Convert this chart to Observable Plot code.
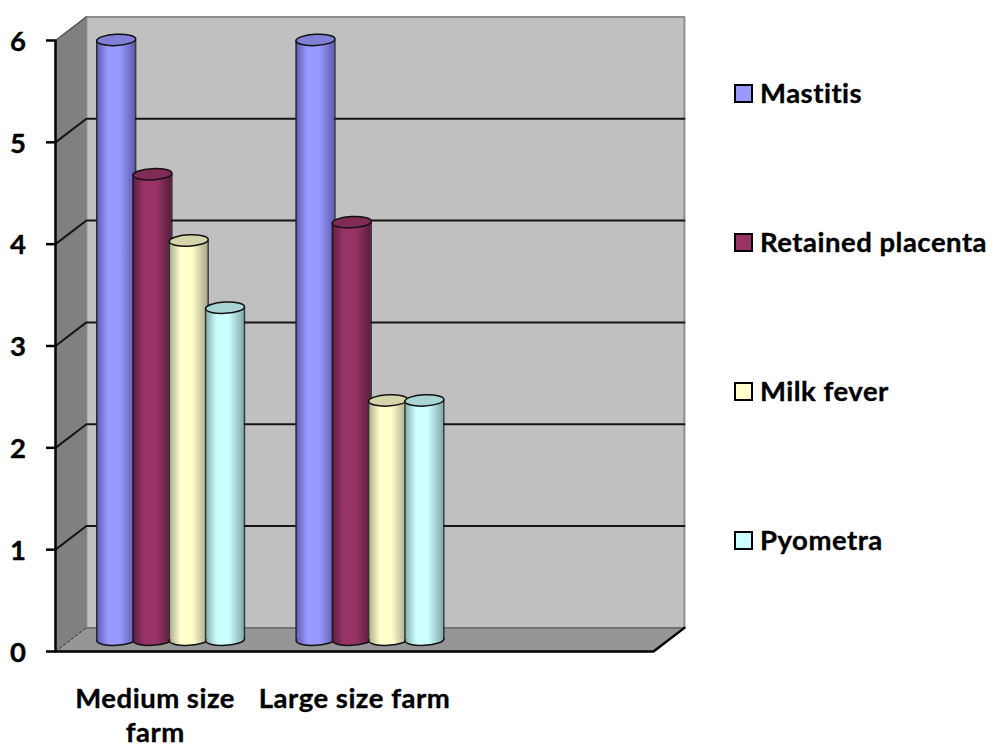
<!DOCTYPE html>
<html>
<head>
<meta charset="utf-8">
<script src="https://cdn.jsdelivr.net/npm/d3@7"></script>
<script src="https://cdn.jsdelivr.net/npm/@observablehq/plot@0.6"></script>
<style>
  html, body { margin: 0; padding: 0; background: #fff; }
  #page { position: relative; width: 993px; height: 747px; overflow: hidden; font-family: Lato, sans-serif; font-variant-ligatures: none; }
  #chart text { letter-spacing: 0.5px; font-variant-ligatures: none; }
  #legend { position: absolute; left: 734px; top: 71px; display: flex; flex-direction: column; gap: 105px; }
  .entry { display: flex; align-items: center; height: 44px; font-size: 27.5px; letter-spacing: 0.5px; font-weight: 700; color: #000; white-space: nowrap; -webkit-text-stroke: 0.35px #000; }
  .entry .name { position: relative; top: -1px; }
  .swatch { box-sizing: border-box; width: 19px; height: 19px; border: 2.5px solid #000; margin-right: 7px; }
</style>
</head>
<body>
<div id="page"><div id="chart"></div><div id="legend"></div></div>
<script>
// Disease counts per farm size
const categories = ["Medium size\nfarm", "Large size farm"];
const seriesNames = ["Mastitis", "Retained placenta", "Milk fever", "Pyometra"];
const mediumValues = [5.89, 4.57, 3.92, 3.26];
const largeValues = [5.89, 4.10, 2.35, 2.35];
const yTicks = [0, 1, 2, 3, 4, 5, 6];

// Palette: face colour, shaded edge of the cylinder, darker cap
const faceColors = ["#9999ff", "#993366", "#ffffcc", "#ccffff"];
const edgeColors = ["#5c5cb0", "#5a1e3d", "#a8a888", "#86a8a8"];
const capColors = ["#8080d6", "#802b55", "#d5d5aa", "#aad5d5"];

// Oblique depth of the chart box, in x and y scale units
const depthX = 0.155;
const depthY = 0.232;
const cylinderWidth = 0.195;
const cylinderStep = 0.182;
const xMax = 3;
const yMax = 6;

const project = (x, y, depth) => ({x: x + depth * depthX, y: y + depth * depthY});
const polygon = (points, options) => Plot.line(points, {x: "x", y: "y", ...options});

// Flat ellipse used for the cylinder ends
const flatEllipse = {
  draw(context, size) {
    const rx = Math.sqrt(size / Math.PI);
    const ry = rx * 0.29;
    const k = 0.5523;
    context.moveTo(-rx, 0);
    context.bezierCurveTo(-rx, -k * ry, -k * rx, -ry, 0, -ry);
    context.bezierCurveTo(k * rx, -ry, rx, -k * ry, rx, 0);
    context.bezierCurveTo(rx, k * ry, k * rx, ry, 0, ry);
    context.bezierCurveTo(-k * rx, ry, -rx, k * ry, -rx, 0);
    context.closePath();
  }
};

// Box: back wall, left wall and floor
const backWall = [project(0, 0, 1), project(xMax, 0, 1), project(xMax, yMax, 1), project(0, yMax, 1), project(0, 0, 1)];
const sideWall = [project(0, 0, 0), project(0, 0, 1), project(0, yMax, 1), project(0, yMax, 0), project(0, 0, 0)];
const floor = [project(0, 0, 0), project(xMax, 0, 0), project(xMax, 0, 1), project(0, 0, 1), project(0, 0, 0)];

const boxMarks = [
  polygon(backWall, {fill: "#c0c0c0", stroke: "#8e8e8e", strokeWidth: 2}),
  polygon(sideWall, {fill: "#808080", stroke: "none"}),
  polygon(floor, {fill: "#969696", stroke: "none"})
];

// Gridlines run across the left wall and then along the back wall
const gridMarks = yTicks.filter(v => v > 0 && v < yMax).map(v =>
  polygon([project(0, v, 0), project(0, v, 1), project(xMax, v, 1)], {stroke: "#151515", strokeWidth: 2})
);

const edgeMarks = [
  polygon([project(0, yMax, 0), project(0, yMax, 1)], {stroke: "#555", strokeWidth: 1.5}),
  polygon([project(0, 0, 0), project(0, 0, 1)], {stroke: "#333", strokeWidth: 1, strokeDasharray: "3,2"}),
  polygon([project(0, 0, 1), project(xMax, 0, 1)], {stroke: "#6a6a6a", strokeWidth: 1.5}),
  polygon([project(0, 0, 0), project(0, yMax, 0)], {stroke: "#000", strokeWidth: 2.5}),
  polygon([project(0, 0, 0), project(xMax, 0, 0), project(xMax, 0, 1)], {stroke: "#000", strokeWidth: 2.5})
];

// One cylinder: bottom end, shaded body, side outlines, top end
function cylinder(categoryIndex, seriesIndex, value) {
  const cx = categoryIndex + 0.5 + depthX / 2 + (seriesIndex - 1.5) * cylinderStep;
  const base = depthY / 2;
  const top = value + base;
  const row = [{cx, base, top}];
  const fill = `url(#cylinder-${seriesIndex})`;
  const halfWidth = cylinderWidth / 2;
  const outline = {stroke: "#111", strokeWidth: 1.5};
  return [
    Plot.dot(row, {x: "cx", y: "base", r: 19.5, symbol: flatEllipse, rotate: -3, fill, ...outline}),
    Plot.rect(row, {x1: d => d.cx - halfWidth, x2: d => d.cx + halfWidth, y1: "base", y2: "top", fill, inset: 0}),
    Plot.ruleX(row, {x: d => d.cx - halfWidth, y1: "base", y2: "top", ...outline, strokeOpacity: 0.75}),
    Plot.ruleX(row, {x: d => d.cx + halfWidth, y1: "base", y2: "top", ...outline, strokeOpacity: 0.75}),
    Plot.dot(row, {x: "cx", y: "top", r: 19.5, symbol: flatEllipse, rotate: -3, fill: capColors[seriesIndex], ...outline})
  ];
}

const cylinderMarks = [mediumValues, largeValues].flatMap((values, c) =>
  values.flatMap((value, s) => cylinder(c, s, value))
);

const chart = Plot.plot({
  width: 700,
  height: 747,
  marginLeft: 55,
  marginRight: 47,
  marginTop: 40,
  marginBottom: 96,
  style: {fontFamily: "Lato, sans-serif", background: "transparent", overflow: "visible"},
  x: {domain: [0, xMax], axis: null},
  y: {domain: [0, yMax], axis: null},
  marks: [
    ...boxMarks,
    ...gridMarks,
    ...edgeMarks,
    Plot.axisY({anchor: "left", ticks: yTicks, tickSize: 9, strokeWidth: 2.5, stroke: "#000", fill: "none", label: null}),
    Plot.axisY({anchor: "left", ticks: yTicks, tickFormat: "d", tickSize: 0, tickPadding: 29, dy: 1.5, fontSize: 27.5, fontWeight: 700, fill: "#000", textStroke: "#000", textStrokeWidth: 0.35, label: null}),
    ...cylinderMarks,
    Plot.text(categories, {
      x: (d, i) => i + 0.5,
      y: () => 0,
      dy: 31.8,
      lineAnchor: "top",
      lineHeight: 1.24,
      fontSize: 27.5,
      fontWeight: 700,
      fill: "#000",
      stroke: "#000",
      strokeWidth: 0.35
    })
  ]
});

// Horizontal shading that gives the bars their round look
const defs = d3.select(chart).insert("defs", ":first-child");
faceColors.forEach((face, i) => {
  const gradient = defs.append("linearGradient").attr("id", `cylinder-${i}`).attr("x1", 0).attr("x2", 1).attr("y1", 0).attr("y2", 0);
  gradient.append("stop").attr("offset", "0%").attr("stop-color", edgeColors[i]);
  gradient.append("stop").attr("offset", "30%").attr("stop-color", face);
  gradient.append("stop").attr("offset", "60%").attr("stop-color", face);
  gradient.append("stop").attr("offset", "100%").attr("stop-color", edgeColors[i]);
});

document.getElementById("chart").append(chart);

// Legend beside the chart
const legend = d3.select("#legend");
seriesNames.forEach((name, i) => {
  const entry = legend.append("div").attr("class", "entry");
  entry.append("span").attr("class", "swatch").style("background", faceColors[i]);
  entry.append("span").attr("class", "name").text(name);
});
</script>
</body>
</html>
